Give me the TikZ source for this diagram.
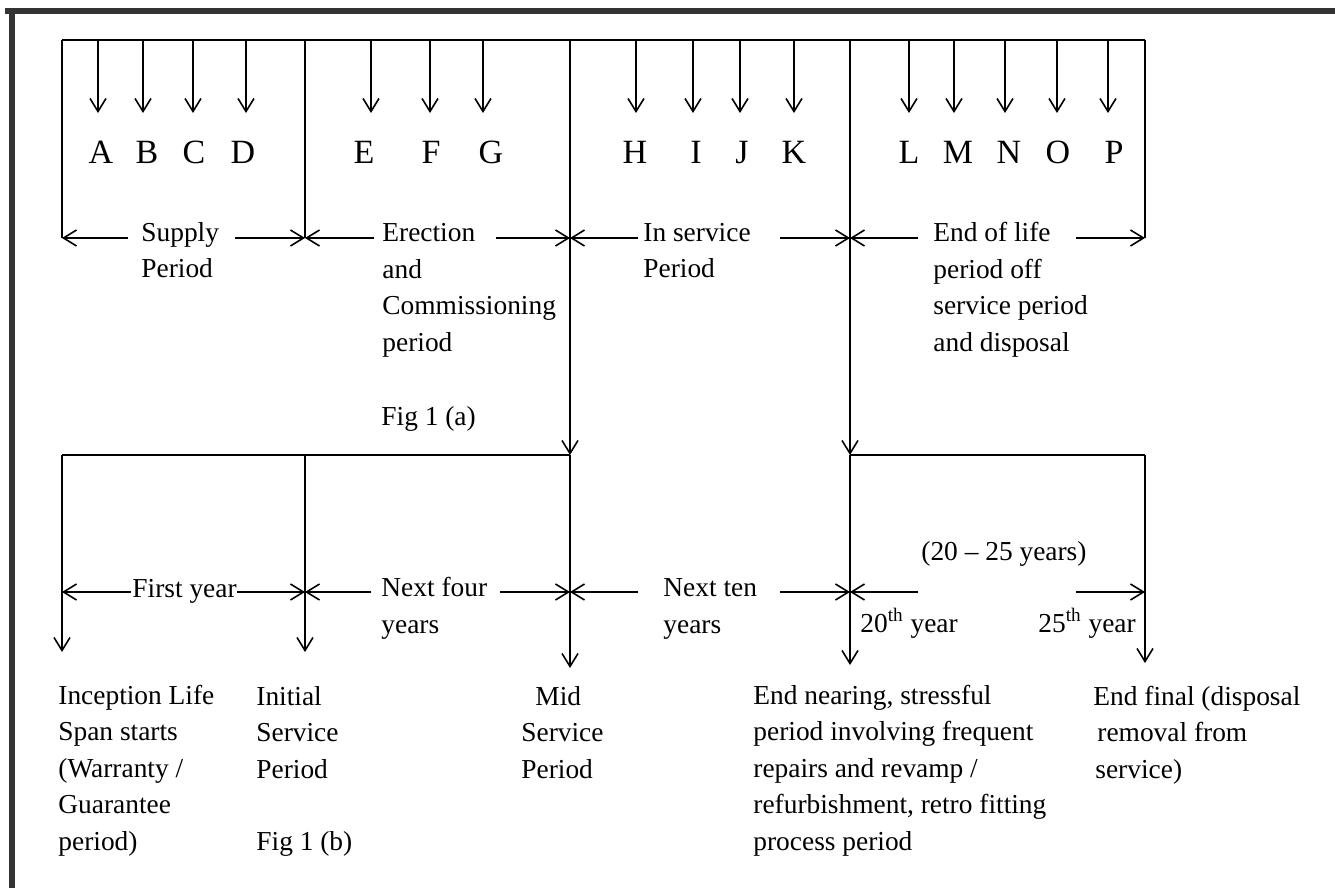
\documentclass[tikz,border=0pt]{standalone}
\usepackage{fontspec}
\setmainfont{Liberation Serif}
\usetikzlibrary{arrows.meta}
\tikzset{
  line/.style={line width=0.8pt},
  arr/.style={line width=0.8pt,-{Straight Barb[length=6.5pt,width=8pt,line width=0.8pt]}},
  lbl/.style={inner sep=0pt,anchor=base west,align=left,font=\fontsize{13.7}{18.25}\selectfont},
  letter/.style={inner sep=0pt,anchor=base,font=\fontsize{17}{20}\selectfont},
}

\begin{document}
\begin{tikzpicture}[x=0.5pt,y=-0.5pt]
		%%%%% START %%%%%
		\useasboundingbox[fill=white] (0,0) rectangle (1335,888);
		\draw[line width=3pt,color=black!80] (5,11) -- (1335,11);
		\draw[line width=3pt,color=black!80] (12,11) -- (12,888);
		
		% fig 1 (a)
		\coordinate (s0) at (62,40);
		\coordinate (s1) at (305,40);
		\coordinate (s2) at (570,40);
		\coordinate (s3) at (850,40);
		\coordinate (s4) at (1145,40);
		\coordinate (m0) at (62,238);
		\coordinate (m1) at (305,238);
		\coordinate (m2) at (570,238);
		\coordinate (m3) at (850,238);
		\coordinate (m4) at (1145,238);
		\coordinate (d2) at (570,455);
		\coordinate (d3) at (850,455);
		\draw[line] (s0) -- (s4);
		\draw[line] (s0) -- (m0);
		\draw[line] (s1) -- (m1);
		\draw[line] (s4) -- (m4);
		\draw[arr] (s2) -- (d2);
		\draw[arr] (s3) -- (d3);
		
		\foreach \x/\lx/\l in {98/101/A,143/147/B,193/194/C,246/243/D,371/364/E,430/431/F,483/491/G,636/635/H,693/696/I,740/742/J,794/794/K,909/909/L,954/958/M,1005/1009/N,1057/1058/O,1108/1114/P}{
			\coordinate (top\l) at (\x,40);
			\coordinate (tip\l) at (\x,113);
			\draw[arr] (top\l) -- (tip\l);
			\node[letter] (\l) at (\lx,163) {\l};
		}
		
		% base = last line
		\node[lbl] (supply) at (141,278) {Supply\\Period};
		\node[lbl] (erection) at (382,351) {Erection\\and\\Commissioning\\period};
		\node[lbl] (figa) at (381,425) {Fig 1 (a)};
		\node[lbl] (inservice) at (643,278) {In service\\Period};
		\node[lbl] (endlife) at (933,351) {End of life\\period off\\service period\\and disposal};
		
		\coordinate (supA) at (128,238);
		\coordinate (supB) at (235,238);
		\coordinate (ereA) at (374,238);
		\coordinate (ereB) at (496,238);
		\coordinate (insA) at (638,238);
		\coordinate (insB) at (780,238);
		\coordinate (endA) at (918,238);
		\coordinate (endB) at (1076,238);
		\draw[arr] (supA) -- (m0);
		\draw[arr] (supB) -- (m1);
		\draw[arr] (ereA) -- (m1);
		\draw[arr] (ereB) -- (m2);
		\draw[arr] (insA) -- (m2);
		\draw[arr] (insB) -- (m3);
		\draw[arr] (endA) -- (m3);
		\draw[arr] (endB) -- (m4);
		
		% fig 1 (b)
		\coordinate (n0) at (62,455);
		\coordinate (n1) at (305,455);
		\coordinate (n4) at (1145,455);
		\coordinate (e0) at (62,652);
		\coordinate (e1) at (305,652);
		\coordinate (e2) at (570,668);
		\coordinate (e3) at (850,665);
		\coordinate (e4) at (1145,663);
		\draw[line] (n0) -- (d2);
		\draw[line] (d3) -- (n4);
		\draw[arr] (n0) -- (e0);
		\draw[arr] (n1) -- (e1);
		\draw[arr] (d2) -- (e2);
		\draw[arr] (d3) -- (e3);
		\draw[arr] (n4) -- (e4);
		
		\coordinate (k0) at (62,592);
		\coordinate (k1) at (305,592);
		\coordinate (k2) at (570,592);
		\coordinate (k3) at (850,592);
		\coordinate (k4) at (1145,592);
		\coordinate (fyA) at (131,592);
		\coordinate (fyB) at (237,592);
		\coordinate (nfA) at (371,592);
		\coordinate (nfB) at (500,592);
		\coordinate (ntA) at (638,592);
		\coordinate (ntB) at (780,592);
		\coordinate (twA) at (918,592);
		\coordinate (twB) at (1076,592);
		\draw[arr] (fyA) -- (k0);
		\draw[arr] (fyB) -- (k1);
		\draw[arr] (nfA) -- (k1);
		\draw[arr] (nfB) -- (k2);
		\draw[arr] (ntA) -- (k2);
		\draw[arr] (ntB) -- (k3);
		\draw[arr] (twA) -- (k3);
		\draw[arr] (twB) -- (k4);
		
		\node[lbl] (firstyear) at (132,597) {First year};
		\node[lbl] (nextfour) at (381,633) {Next four\\years};
		\node[lbl] (nextten) at (663,633) {Next ten\\years};
		\node[lbl] (range) at (921,560) {(20 -- 25 years)};
		\node[lbl] (yeartwenty) at (860,632) {20\textsuperscript{th} year};
		\node[lbl] (yeartwentyfive) at (1038,632) {25\textsuperscript{th} year};
		
		\node[lbl] (inception) at (58,850) {Inception Life\\Span starts\\(Warranty /\\Guarantee\\period)};
		\node[lbl] (initial) at (256,778) {Initial\\Service\\Period};
		\node[lbl] (figb) at (256,850) {Fig 1 (b)};
		\node[lbl] (mid) at (521,778) {\hspace*{7pt}Mid\\Service\\Period};
		\node[lbl] (nearing) at (753,850) {End nearing, stressful\\period involving frequent\\repairs and revamp /\\refurbishment, retro fitting\\process period};
		\node[lbl] (final) at (1093,778) {End final (disposal\\\hspace*{2pt}removal from\\\hspace*{1pt}service)};
		%%%%% END %%%%%
\end{tikzpicture}
\end{document}
